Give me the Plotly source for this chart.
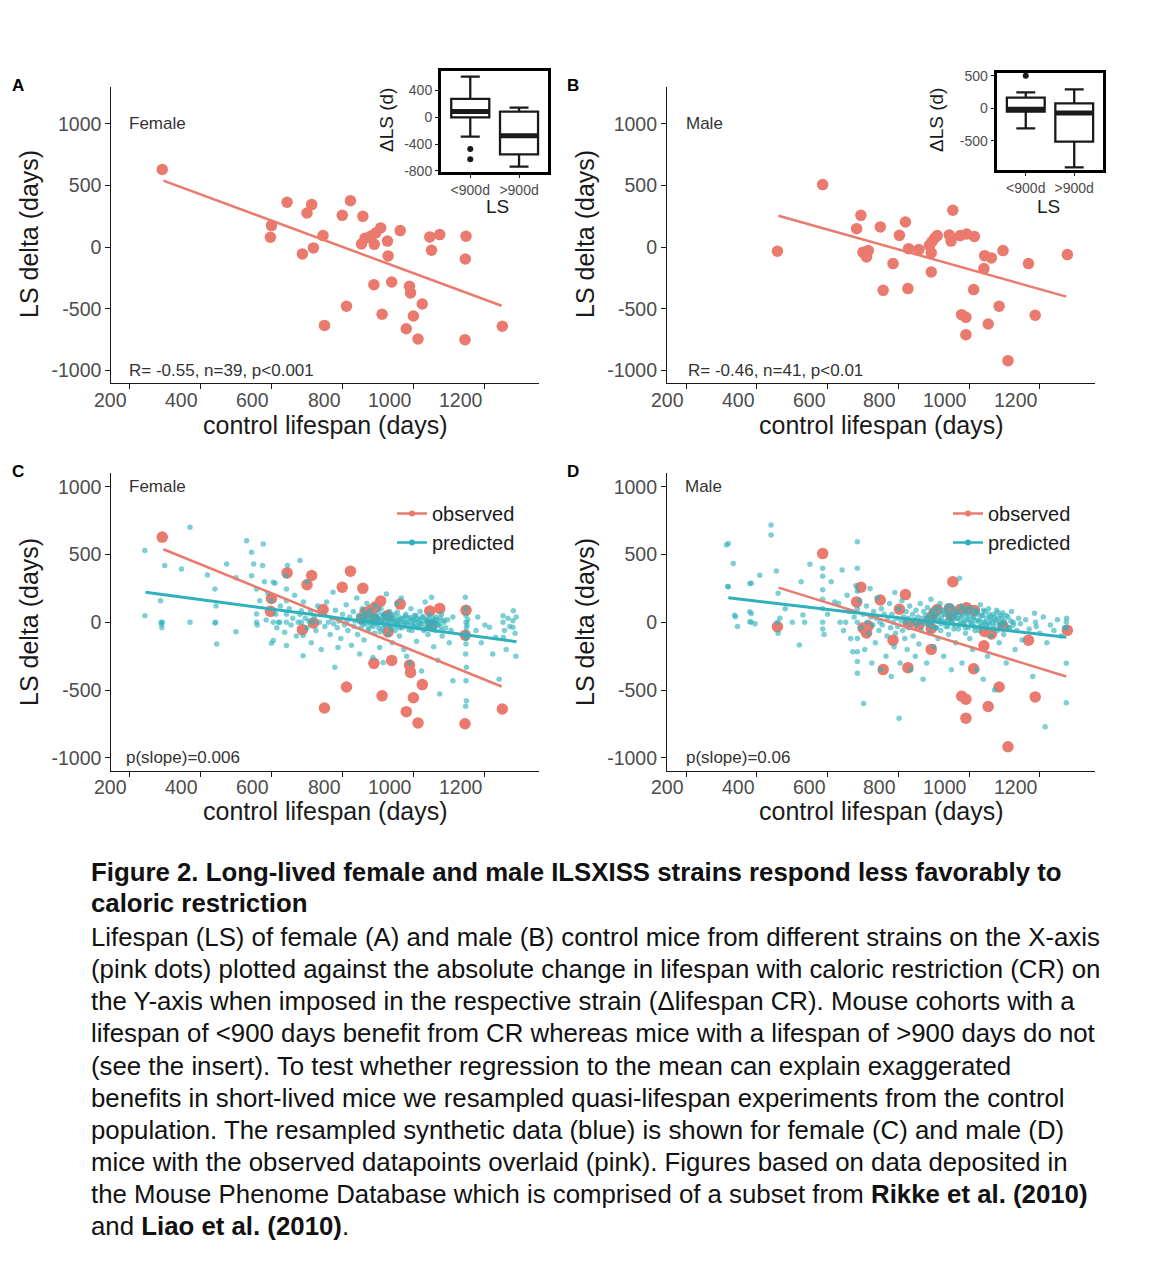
import plotly.graph_objects as go

# the page body has an 8px margin: work in screenshot pixels and shift
OFF = 8
W, H = 1142, 1247
def fx(p): return (p - OFF) / W
def fy(p): return 1 - (p - OFF) / H

FONT = "Liberation Sans"
RED = "#EA7A6D"
BLUE = "#2FB1BC"
INK = "#1a1a1a"
GREY = "#4D4D4D"
TICK_SIZE = 19.5

# ---------------- data ----------------
x_ticks = [200, 400, 600, 800, 1000, 1200]
x_ticktext = ["200", "400", "600", "800", "1000", "1200"]
y_ticks = [-1000, -500, 0, 500, 1000]
y_ticktext = ["-1000", "-500", "0", "500", "1000"]

fem_x = [293, 600, 597, 644, 713, 700, 745, 687, 718, 749,
         799, 822, 857, 811, 853, 863, 880, 893, 889, 907,
         926, 928, 962, 1045, 1073, 1050, 1147, 1145, 888, 938,
         988, 991, 911, 999, 1024, 979, 1012, 1144, 1249]
fem_y = [630, 176, 81, 365, 346, 278, 95, -54, -5, -633,
         259, 378, 251, -478, 27, 73, 92, 116, 24, 157,
         50, -70, 135, 84, 103, -24, 89, -95, -303, -281,
         -316, -370, -543, -557, -460, -660, -743, -749, -640]

mal_x = [458, 586, 694, 682, 700, 715, 710, 749, 820, 803,
         785, 757, 827, 829, 858, 893, 888, 895, 903, 910,
         893, 944, 949, 954, 975, 993, 1015, 1044, 1063, 1096,
         1042, 1013, 1168, 1278, 979, 991, 991, 1085, 1054, 1187,
         1110]
mal_y = [-32, 508, 259, 151, -41, -27, -78, 165, 205, 97,
         -132, -349, -335, -11, -19, -200, 15, 45, 75, 95,
         -45, 100, 50, 300, 95, 108, 88, -68, -86, -27,
         -173, -343, -132, -59, -546, -568, -708, -478, -622, -551,
         -919]

# fitted lines
fit_fem_obs_x = [296, 1247]
fit_fem_obs_y = [540, -474]
fit_mal_obs_x = [461, 1275]
fit_mal_obs_y = [256, -400]
fit_fem_pred_x = [246, 1289]
fit_fem_pred_y = [222, -143]
fit_mal_pred_x = [319, 1275]
fit_mal_pred_y = [182, -111]

pred_fem_x = [
    244, 244, 288, 290, 291, 292, 293, 300, 347, 371, 371, 420, 441, 441, 443, 446, 444, 474, 500, 500,
    530, 544, 550, 544, 558, 567, 558, 558, 560, 577, 575, 580, 585, 590, 600, 600, 605, 605, 605, 610, 612, 615, 620, 623, 625,
    637, 640, 642, 642, 642, 642, 642, 645, 650, 655, 660, 665, 670, 675, 680, 680, 684, 684, 689, 689, 690, 695, 700, 700,
    705, 710, 712, 715, 720, 725, 730, 735, 740, 745, 750, 755, 760, 765, 770, 773, 775, 778, 780, 785, 787, 790, 795, 800,
    805, 810, 812, 815, 820, 825, 830, 832, 835, 840, 842, 845, 848, 850, 852, 855, 858, 860, 862, 865, 868, 870, 872, 875, 878, 880, 882, 885, 887, 890, 892, 895, 898, 900,
    902, 904, 905, 908, 910, 912, 914, 915, 918, 920, 923, 925, 928, 930, 932, 935, 938, 940, 942, 945, 948, 950, 952, 955, 958, 960, 962, 965, 968, 970, 972, 975, 978, 980, 982, 985, 988, 990, 992, 995, 998, 1000,
    1002, 1005, 1008, 1010, 1012, 1015, 1018, 1020, 1022, 1025, 1028, 1030, 1032, 1035, 1038, 1040, 1042, 1045, 1048, 1050, 1052, 1054, 1056, 1058, 1060, 1062, 1065, 1068, 1070, 1073, 1075, 1078, 1080, 1085, 1090, 1095, 1100, 1105, 1110, 1110,
    1145, 1146, 1147, 1147, 1148, 1148, 1148, 1147, 1146, 1148, 1147, 1148, 1146, 1150, 1152, 1143,
    1175, 1180, 1190, 1200, 1213, 1222, 1230, 1240, 1251, 1251, 1252, 1255, 1260, 1265, 1270, 1279, 1279, 1280, 1285, 1287, 1288,
    852, 858, 863, 868, 873, 877, 883, 886, 891, 896, 901, 906, 909, 913, 917, 921, 926, 929, 934, 937,
    941, 946, 951, 954, 957, 961, 966, 971, 976, 981, 986, 991, 996, 1001, 1006, 1011, 1016, 1021, 1026, 1031,
    1036, 1041, 1046, 1051, 1057, 1063, 1069, 1074, 1079, 1084]
pred_fem_y = [
    49, 530, 160, 0, -15, -40, 0, 420, 394, 702, 0, 350, 246, -5, 0, -160, 120, 431, -70, 330,
    603, 517, 431, 345, 246, 160, 62, 0, -20, 579, 420, 300, 17, 214, 160, -155, 296, 0, -135, 288, 60, -40, 0, 0, 120,
    -74, 345, 246, 160, 60, 0, -172, 420, 100, -20, 30, 200, -100, 0, 456, 60, 86, 0, -98, -246, 150, 30, -40, 300,
    10, 80, -150, 0, 40, -60, 120, 0, -200, 60, -30, 150, 0, -90, 30, 222, -10, -332, 90, -40, -185, 10, -120, 60,
    -20, 130, 0, -60, 40, -170, 80, -30, 10, 180, -90, 50, -234, 0, -40, 100, 20, -130, 60, -10, 140, 30, -60, 0, 90, -20, 50, -259, 10, -80, 120, 40, -10, 70,
    -40, -185, 20, 100, 0, -50, -296, 60, 10, -20, 209, 40, -90, 0, 80, -30, 30, -150, 0, 60, -60, 20, 140, -10, 40, -100, 0, 180, -40, 30, -200, 0, 60, -250, -20, 30, -300, 0, 100, -60, 20, -30,
    50, -5, -140, 30, -40, 0, 80, -20, -360, 40, -60, 10, 150, -30, 20, -90, 0, 60, -40, 185, -10, 30, -180, 0, -60, 40, -20, -280, 10, -530, -30, 60, -100, 0, -40, 20, -150, -60, -431, 40,
    185, 100, 50, 0, -40, -80, -120, -160, -234, -332, -431, -579, -620, -20, 20, -100,
    -60, 40, -150, -20, -37, -234, -110, -420, 49, 0, -111, -60, -200, 30, -30, 12, -37, 86, -80, -250, 40,
    40, -15, 70, 25, -45, 55, 10, -30, 45, -5, 30, -70, 15, 50, -20, 35, -10, 60, 20, -50,
    40, 5, -25, 75, 10, -40, 25, -15, 45, 0, -55, 35, -20, 15, 50, -35, 20, -10, 40, -50,
    5, 30, -25, 10, -45, 20, -15, 35, -60, 15]

pred_mal_x = [
    314, 317, 319, 319, 333, 337, 339, 345, 380, 380, 380, 384, 384, 384, 395, 408, 440, 440, 455, 458, 460, 460, 465, 480, 500, 520, 525, 530, 535, 550,
    586, 586, 586, 586, 586, 586, 586, 590, 600, 610, 620, 631, 635, 641, 645, 651, 655, 660, 665, 671, 675, 680, 684, 684, 684, 684, 684, 684, 684, 684, 684, 690, 695, 700, 702,
    705, 710, 712, 715, 720, 722, 725, 728, 730, 735, 738, 740, 745, 748, 750, 752, 755, 760, 765, 768, 770, 775, 778, 780, 782, 785, 788, 790, 792, 795, 798, 800, 802,
    805, 808, 810, 812, 815, 818, 820, 822, 825, 828, 830, 832, 835, 838, 840, 842, 845, 848, 850, 852, 855, 858, 860, 862, 865, 868, 870, 872, 875, 878, 880, 882, 885, 888, 890, 892, 895, 898, 900,
    902, 905, 908, 910, 912, 915, 918, 920, 922, 925, 928, 930, 932, 935, 938, 940, 942, 945, 948, 950, 952, 955, 958, 960, 962, 965, 968, 970, 973, 975, 978, 980, 982, 985, 988, 990, 992, 995, 998, 1000,
    1002, 1005, 1008, 1010, 1012, 1015, 1018, 1020, 1022, 1025, 1028, 1030, 1032, 1035, 1038, 1040, 1042, 1045, 1048, 1050, 1052, 1055, 1058, 1060, 1062, 1065, 1068, 1070, 1072, 1075, 1078, 1080, 1082, 1085, 1088, 1090, 1092, 1095, 1098, 1100,
    1105, 1110, 1115, 1120, 1125, 1130, 1135, 1140, 1145, 1150, 1160, 1170, 1180, 1185, 1188, 1190, 1200, 1210, 1215, 1220, 1230, 1240, 1250, 1260, 1270, 1275, 1275, 1275, 1275, 1276,
    882, 887, 893, 898, 903, 907, 912, 916, 921, 926, 931, 936, 940, 944, 949, 953, 957, 962, 967, 971,
    976, 981, 985, 989, 994, 999, 1003, 1008, 1013, 1017, 1022, 1027, 1031, 1036, 1041, 1046, 1051, 1056, 1061, 1066,
    1071, 1076, 1081, 1087, 1093, 1099, 1105, 1111, 1118, 1125]
pred_mal_y = [
    571, 264, 582, 262, 434, 53, 42, -30, 287, 78, 4, 288, 66, 0, -10, 348, 719, 645, 380, 0, 214, -81, 30, 100, 0, -167, 300, 54, 0, 430,
    400, 340, 240, 170, 100, 0, -50, -90, 60, 300, 150, 140, 0, 387, -60, 0, 200, 80, -120, -217, 40, 270, 596, 400, 230, 100, 0, -120, -217, -290, -377, 160, -40, 60, -599,
    -200, 120, 0, -80, 250, 40, -300, -20, 80, -150, 30, 180, -60, 0, -350, 100, -20, 60, -250, -100, 20, 140, -40, -400, 60, 0, -180, 220, -80, 30, -30, 100, -709,
    -300, 10, 160, -60, 40, -120, 0, 80, -200, 30, -40, 120, -350, 0, 60, -100, 20, -250, 90, -20, 40, -160, 0, 140, -60, 30, -420, 80, -10, 50, -300, 110, 0, -80, 40, 170, -30, 60, -180,
    20, 100, -40, 60, -120, 10, 140, -60, 30, 90, -250, 0, 60, -30, 120, 20, -90, 70, 0, -350, 40, 100, -20, 60, -150, 30, 80, -50, 325, 10, 120, -300, 40, -10, 70, -80, 20, 100, -40, 50,
    -120, 0, 80, -200, 30, -30, 90, 10, -350, 60, -60, 20, 130, -20, 50, -420, 0, 80, -40, 30, -250, 100, -10, 40, -100, 0, 60, -30, -500, 20, 90, -60, 30, -150, 0, 50, -20, 70, -90, 10,
    -300, 40, -40, 80, 0, -200, -60, 30, -10, -130, 20, -50, -400, 67, 0, -30, -80, 40, -771, -150, -20, -60, 20, -100, -40, 0, -40, -303, -594, 30,
    30, -20, 80, 10, 50, -40, 100, 20, -10, 60, 0, 90, -30, 40, 120, 10, -50, 70, 30, -20,
    50, 100, 0, -40, 60, 20, 110, -10, 40, -60, 80, 10, -30, 50, 90, 0, -20, 60, 20, -50,
    40, 0, 70, -30, 30, -10, 50, -40, 10, -20]

assert len(pred_fem_x) == len(pred_fem_y), (len(pred_fem_x), len(pred_fem_y))
assert len(pred_mal_x) == len(pred_mal_y), (len(pred_mal_x), len(pred_mal_y))

# inset boxplots (ΔLS by lifespan group)
box_groups = ["&lt;900d", "&gt;900d"]
box_pos = [1, 2]
boxA_low = [-289, -737]
boxA_q1 = [0, -553]
boxA_med = [85, -274]
boxA_q3 = [274, 85]
boxA_high = [608, 144]
boxA_out_x = [1, 1]
boxA_out_y = [-473, -627]

boxB_low = [-308, -908]
boxB_q1 = [-51, -513]
boxB_med = [-15, -70]
boxB_q3 = [164, 77]
boxB_high = [246, 292]
boxB_out_x = [1]
boxB_out_y = [503]

# ---------------- figure ----------------
fig = go.Figure()

def obs_points(x, y, xa, ya):
    fig.add_trace(go.Scatter(x=x, y=y, mode="markers", xaxis=xa, yaxis=ya,
                             marker=dict(color=RED, size=11.5, line=dict(width=0)),
                             showlegend=False, hoverinfo="skip"))

def line(x, y, xa, ya, color, width):
    fig.add_trace(go.Scatter(x=x, y=y, mode="lines", xaxis=xa, yaxis=ya,
                             line=dict(color=color, width=width),
                             showlegend=False, hoverinfo="skip"))

def pred_points(x, y, xa, ya):
    fig.add_trace(go.Scatter(x=x, y=y, mode="markers", xaxis=xa, yaxis=ya,
                             marker=dict(color=BLUE, size=5.5, opacity=0.62, line=dict(width=0)),
                             showlegend=False, hoverinfo="skip"))

# A
obs_points(fem_x, fem_y, "x", "y")
line(fit_fem_obs_x, fit_fem_obs_y, "x", "y", RED, 2.5)
# B
obs_points(mal_x, mal_y, "x2", "y2")
line(fit_mal_obs_x, fit_mal_obs_y, "x2", "y2", RED, 2.5)
# C
obs_points(fem_x, fem_y, "x3", "y3")
pred_points(pred_fem_x, pred_fem_y, "x3", "y3")
line(fit_fem_obs_x, fit_fem_obs_y, "x3", "y3", RED, 2.5)
line(fit_fem_pred_x, fit_fem_pred_y, "x3", "y3", BLUE, 3)
# D
obs_points(mal_x, mal_y, "x4", "y4")
pred_points(pred_mal_x, pred_mal_y, "x4", "y4")
line(fit_mal_obs_x, fit_mal_obs_y, "x4", "y4", RED, 2.5)
line(fit_mal_pred_x, fit_mal_pred_y, "x4", "y4", BLUE, 3)

# legend keys
for lg, xa, ya in [("legend", "x3", "y3"), ("legend2", "x4", "y4")]:
    for name, col in [("observed", RED), ("predicted", BLUE)]:
        fig.add_trace(go.Scatter(x=[None], y=[None], mode="lines+markers", name=name,
                                 xaxis=xa, yaxis=ya, legend=lg,
                                 line=dict(color=col, width=2.5),
                                 marker=dict(color=col, size=6)))

# insets
BOXW = 0.78
def inset(xa, ya, low, q1, med, q3, high, ox, oy):
    fig.add_trace(go.Box(x=box_pos, q1=q1, median=med, q3=q3, lowerfence=low, upperfence=high,
                         xaxis=xa, yaxis=ya, width=BOXW, fillcolor="white",
                         line=dict(color=INK, width=2.3), boxpoints=False,
                         showlegend=False, hoverinfo="skip"))
    for p, m in zip(box_pos, med):
        fig.add_trace(go.Scatter(x=[p - BOXW / 2, p + BOXW / 2], y=[m, m], mode="lines",
                                 xaxis=xa, yaxis=ya, line=dict(color=INK, width=5),
                                 showlegend=False, hoverinfo="skip"))
    fig.add_trace(go.Scatter(x=ox, y=oy, mode="markers", xaxis=xa, yaxis=ya,
                             marker=dict(color=INK, size=6), showlegend=False, hoverinfo="skip"))

inset("x5", "y5", boxA_low, boxA_q1, boxA_med, boxA_q3, boxA_high, boxA_out_x, boxA_out_y)
inset("x6", "y6", boxB_low, boxB_q1, boxB_med, boxB_q3, boxB_high, boxB_out_x, boxB_out_y)

# ---------------- axes ----------------
base = dict(showline=True, linecolor=INK, linewidth=1.3, ticks="outside", ticklen=5,
            tickcolor=INK, tickwidth=1.2, showgrid=False, zeroline=False,
            tickfont=dict(family=FONT, size=TICK_SIZE, color=GREY), automargin=False)

XL, XR = fx(111.4), fx(539.3)
XL2, XR2 = fx(667.1), fx(1094.6)
YT_AB, YB_AB = fy(87), fy(383)
YT_CD, YB_CD = fy(473.3), fy(770.7)

def xax(dom, rng, anchor):
    return dict(base, domain=dom, range=rng, tickvals=x_ticks, showticklabels=False, anchor=anchor)

def yax(dom, rng, anchor):
    return dict(base, domain=dom, range=rng, tickvals=y_ticks, ticktext=y_ticktext, anchor=anchor)

inset_base = dict(showline=True, mirror=True, linecolor="black", linewidth=3, ticks="outside",
                  ticklen=3, tickcolor=INK, tickwidth=1.2, showgrid=False, zeroline=False,
                  tickfont=dict(family=FONT, size=14, color=GREY), automargin=False)

fig.update_layout(
    width=W, height=H, margin=dict(l=0, r=0, t=0, b=0),
    plot_bgcolor="rgba(0,0,0,0)", paper_bgcolor="white",
    font=dict(family=FONT, color=INK),
    xaxis=xax([XL, XR], [150, 1353], "y"),
    yaxis=yax([YB_AB, YT_AB], [-1100, 1299], "x"),
    xaxis2=xax([XL2, XR2], [146, 1355], "y2"),
    yaxis2=yax([YB_AB, YT_AB], [-1100, 1299], "x2"),
    xaxis3=xax([XL, XR], [150, 1353], "y3"),
    yaxis3=yax([YB_CD, YT_CD], [-1096, 1101], "x3"),
    xaxis4=xax([XL2, XR2], [146, 1355], "y4"),
    yaxis4=yax([YB_CD, YT_CD], [-1096, 1101], "x4"),
    xaxis5=dict(inset_base, domain=[fx(441), fx(548.3)], range=[0.4, 2.6], anchor="y5",
                tickvals=box_pos, ticktext=box_groups),
    yaxis5=dict(inset_base, domain=[fy(172.3), fy(71)], range=[-822, 692], anchor="x5",
                tickvals=[-800, -400, 0, 400], ticktext=["-800", "-400", "0", "400"]),
    xaxis6=dict(inset_base, domain=[fx(996.7), fx(1103.3)], range=[0.4, 2.6], anchor="y6",
                tickvals=box_pos, ticktext=box_groups),
    yaxis6=dict(inset_base, domain=[fy(170), fy(72.7)], range=[-949, 549], anchor="x6",
                tickvals=[-500, 0, 500], ticktext=["-500", "0", "500"]),
    legend=dict(x=fx(392), y=fy(494), xanchor="left", yanchor="top", bgcolor="rgba(0,0,0,0)",
                font=dict(family=FONT, size=20, color=INK), tracegroupgap=0, itemwidth=30),
    legend2=dict(x=fx(948), y=fy(494), xanchor="left", yanchor="top", bgcolor="rgba(0,0,0,0)",
                 font=dict(family=FONT, size=20, color=INK), tracegroupgap=0, itemwidth=30),
    showlegend=True,
)

ann = []
def text(px, py, s, size, color=INK, xanchor="left", angle=0, bold=False):
    ann.append(dict(x=fx(px), y=fy(py), xref="paper", yref="paper", text=(f"<b>{s}</b>" if bold else s),
                    showarrow=False, xanchor=xanchor, yanchor="middle", textangle=angle,
                    font=dict(family=FONT, size=size, color=color)))

# x tick labels (right aligned to ticks)
for xa, ylab in [("x", 400), ("x2", 400), ("x3", 787), ("x4", 787)]:
    for v, t in zip(x_ticks, x_ticktext):
        ann.append(dict(x=v, y=fy(ylab), xref=xa, yref="paper", text=t, showarrow=False,
                        xanchor="right", yanchor="middle",
                        font=dict(family=FONT, size=TICK_SIZE, color=GREY)))

# in-panel annotations
def dtext(xa, ya, x, y, s):
    ann.append(dict(x=x, y=y, xref=xa, yref=ya, text=s, showarrow=False, xanchor="left",
                    yanchor="middle", font=dict(family=FONT, size=17, color="#333333")))

dtext("x", "y", 195, 1000, "Female")
dtext("x", "y", 193, -1000, "R= -0.55, n=39, p&lt;0.001")
dtext("x2", "y2", 195, 1000, "Male")
dtext("x2", "y2", 200, -1000, "R= -0.46, n=41, p&lt;0.01")
dtext("x3", "y3", 195, 1000, "Female")
dtext("x3", "y3", 185, -1000, "p(slope)=0.006")
dtext("x4", "y4", 192, 1000, "Male")
dtext("x4", "y4", 195, -1000, "p(slope)=0.06")

# axis titles
for (cx, cy) in [(325, 425), (881, 425), (325, 811), (881, 811)]:
    text(cx, cy, "control lifespan (days)", 25, xanchor="center")
for (cx, cy) in [(29, 234), (585, 234), (29, 622), (585, 622)]:
    text(cx, cy, "LS delta (days)", 25, xanchor="center", angle=-90)

# inset titles
text(386, 120, "ΔLS (d)", 19, xanchor="center", angle=-90)
text(497, 206, "LS", 19, xanchor="center")
text(936, 120, "ΔLS (d)", 19, xanchor="center", angle=-90)
text(1048, 206, "LS", 19, xanchor="center")

# panel letters
for (cx, cy, s) in [(18, 85, "A"), (573, 85, "B"), (18, 471, "C"), (573, 471, "D")]:
    text(cx, cy, s, 17, color="black", xanchor="center", bold=True)

# caption
caption = [
    (872, "<b>Figure 2. Long-lived female and male ILSXISS strains respond less favorably to</b>"),
    (903, "<b>caloric restriction</b>"),
    (937, "Lifespan (LS) of female (A) and male (B) control mice from different strains on the X-axis"),
    (969, "(pink dots) plotted against the absolute change in lifespan with caloric restriction (CR) on"),
    (1001, "the Y-axis when imposed in the respective strain (Δlifespan CR). Mouse cohorts with a"),
    (1033, "lifespan of &lt;900 days benefit from CR whereas mice with a lifespan of &gt;900 days do not"),
    (1066, "(see the insert). To test whether regression to the mean can explain exaggerated"),
    (1098, "benefits in short-lived mice we resampled quasi-lifespan experiments from the control"),
    (1130, "population. The resampled synthetic data (blue) is shown for female (C) and male (D)"),
    (1162, "mice with the observed datapoints overlaid (pink). Figures based on data deposited in"),
    (1194, "the Mouse Phenome Database which is comprised of a subset from <b>Rikke et al. (2010)</b>"),
    (1226, "and <b>Liao et al. (2010)</b>."),
]
for cy, s in caption:
    text(89, cy, s, 25.8, color="#111111")

fig.update_layout(annotations=ann)
fig.write_html("out.html")
